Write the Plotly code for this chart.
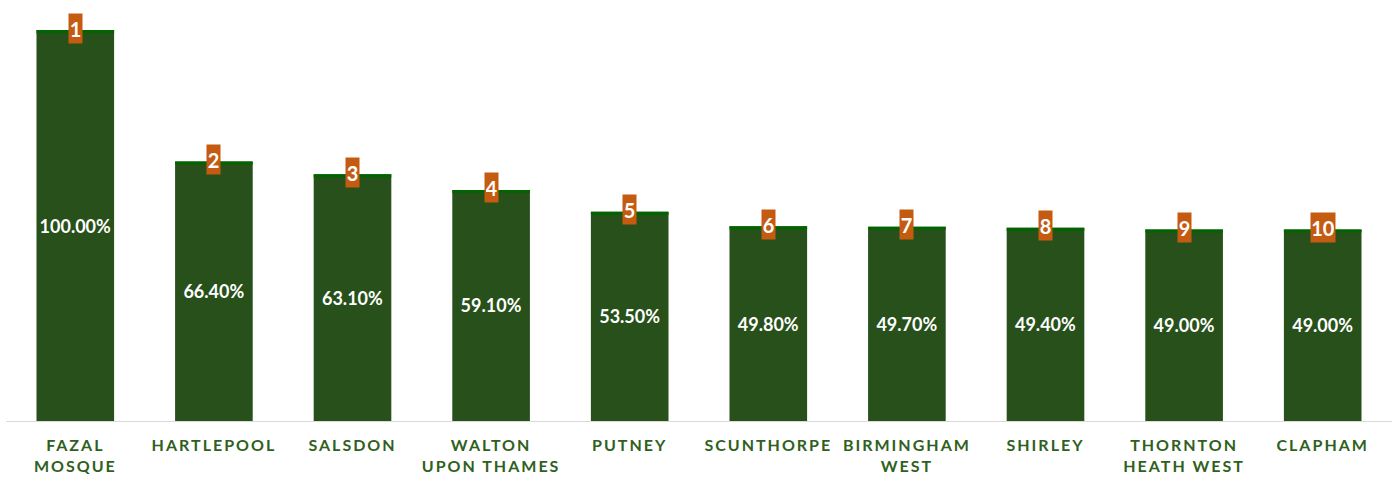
import plotly.graph_objects as go

categories = ["FAZAL MOSQUE", "HARTLEPOOL", "SALSDON", "WALTON UPON THAMES", "PUTNEY",
              "SCUNTHORPE", "BIRMINGHAM WEST", "SHIRLEY", "THORNTON HEATH WEST", "CLAPHAM"]
tick_lines = [["FAZAL", "MOSQUE"], ["HARTLEPOOL"], ["SALSDON"], ["WALTON", "UPON THAMES"], ["PUTNEY"],
              ["SCUNTHORPE"], ["BIRMINGHAM", "WEST"], ["SHIRLEY"], ["THORNTON", "HEATH WEST"], ["CLAPHAM"]]
values = [100.0, 66.4, 63.1, 59.1, 53.5, 49.8, 49.7, 49.4, 49.0, 49.0]
ranks = [1, 2, 3, 4, 5, 6, 7, 8, 9, 10]

BAR = "#27501A"
TOP = "#006400"
ORANGE = "#C55A11"
LABEL = "#2F6020"
FONT = "Lato, 'Open Sans', sans-serif"

ticktext = ["<br>".join(f'<span style="letter-spacing:2px">{ln}</span>' for ln in lines)
            for lines in tick_lines]

strip = 0.8
fig = go.Figure()
fig.add_trace(go.Bar(
    x=categories, y=values, marker=dict(color=BAR, line=dict(width=0)),
    width=0.56,
    text=[f"{v:.2f}%" for v in values], textposition="inside", insidetextanchor="middle",
    textfont=dict(color="white", size=18, family=FONT, weight="bold"),
    hoverinfo="skip", cliponaxis=False,
))
fig.add_trace(go.Bar(
    x=categories, y=[strip] * len(values), base=[v - strip for v in values],
    marker=dict(color=TOP, line=dict(width=0)), width=0.56, hoverinfo="skip",
))

for c, v, r in zip(categories, values, ranks):
    fig.add_annotation(
        x=c, y=v, text=f"<b>{r}</b>", showarrow=False, yanchor="middle", yshift=2,
        bgcolor=ORANGE, borderpad=1, height=27, width=11 * len(str(r)),
        font=dict(color="white", size=20, family=FONT),
    )

fig.update_layout(
    width=1400, height=487, barmode="overlay", showlegend=False,
    margin=dict(l=6, r=8, t=30, b=66),
    plot_bgcolor="white", paper_bgcolor="white",
    xaxis=dict(showline=True, linecolor="#d9d9d9", linewidth=1, showgrid=False, ticks="",
               tickmode="array", tickvals=categories, ticktext=ticktext, ticklabelstandoff=10,
               tickfont=dict(color=LABEL, size=16, family=FONT, weight="bold")),
    yaxis=dict(range=[0, 100], visible=False, showgrid=False),
)
fig.write_html("out.html", config={"displayModeBar": False},
               post_script="document.body.style.margin='0';")
